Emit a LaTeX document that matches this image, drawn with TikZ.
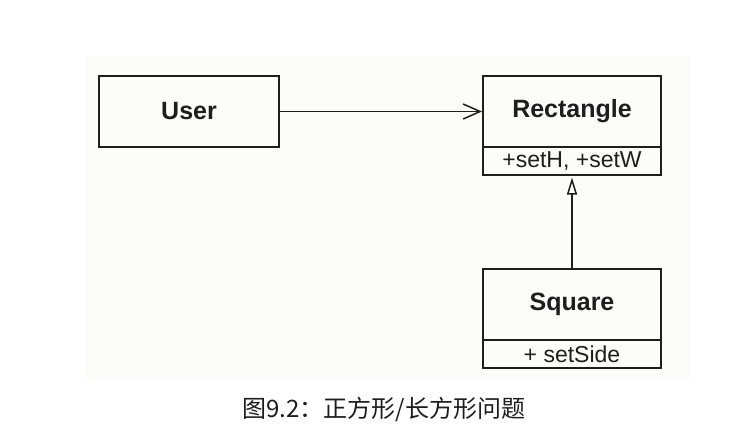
\documentclass[tikz,border=0pt]{standalone}
\usepackage{fontspec}
\setmainfont{Liberation Sans}
\newfontfamily\cjk{Noto Sans CJK SC}
\usepackage{tikz}
\usetikzlibrary{arrows.meta, positioning}
\usetikzlibrary{calc,shapes}
\definecolor{ink}{HTML}{1E1E1E}
\definecolor{paper}{HTML}{FCFCF8}
\tikzstyle{assoc} = [line width=1.5pt, draw=ink, -{Straight Barb[length=17pt, width=15pt, line width=1.5pt]}]
\tikzstyle{inherit} = [line width=1.5pt, draw=ink, -{Triangle[open, length=17pt, width=10pt, line width=1.5pt, fill=paper]}, shorten >=1.5pt]
\tikzset{
	classbox/.style = {rectangle, draw=ink, line width=2pt, fill=paper,
		minimum width=178pt, minimum height=71pt, inner sep=0pt,
		font=\fontsize{25}{25}\selectfont\bfseries, text=ink},
	opsbox/.style = {rectangle, draw=ink, line width=2pt, fill=paper,
		minimum width=178pt, minimum height=28pt, inner sep=0pt,
		font=\fontsize{23}{23}\selectfont, text=ink}
}

\begin{document}
\begin{tikzpicture}[x=1pt, y=1pt, node distance=383pt]
\useasboundingbox (0,0) rectangle (755,-424);
\fill [paper] (85,-55) rectangle (690,-380);
%----------------------------------------------------------------------------
% Placement of class boxes
\node (user) [classbox, minimum width=180pt] at (189,-111.5) {User};
\node (rect) [classbox, right of = user] {Rectangle};
\node (rectOps) [opsbox, below of = rect, node distance = 49.5pt] {+setH, +setW};

\node (square) [classbox, below of = rect, node distance = 193pt] {Square};
\node (squareOps) [opsbox, below of = square, node distance = 49.5pt] {+ setSide};

%----------------------------------------------------------------------------
% Lines
\draw [assoc] (user) -- (rect);
\draw [inherit] (square) -- (rectOps);

%----------------------------------------------------------------------------
% Caption
\node (caption) [font=\fontsize{24}{24}\selectfont\cjk, text=ink] at (384,-409) {图9.2：正方形/长方形问题};
\end{tikzpicture}
\end{document}
